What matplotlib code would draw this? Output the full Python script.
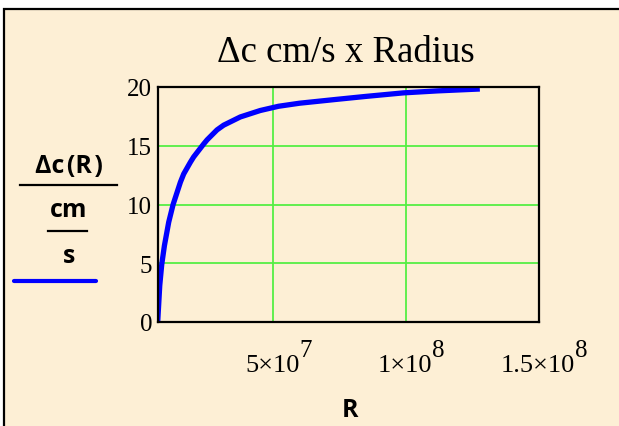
import matplotlib
matplotlib.use('Agg')
import matplotlib.pyplot as plt
from matplotlib.patches import Rectangle
from matplotlib.lines import Line2D

# values (R in 1e6 units, delta c in cm/s)
radius_e6 = [6.6, 7.37, 8.12, 9.13, 10.75, 12.4, 15.15, 16.39, 18.91, 20.15, 23.91, 25.19,
             28.94, 31.43, 37.7, 45.22, 52.1, 60, 74.05, 85, 99.09, 112, 127.9]
delta_c = [0, 3.1, 4.9, 6.5, 8.5, 10.0, 11.9, 12.6, 13.6, 14.05, 15.15, 15.5,
           16.35, 16.75, 17.45, 18.0, 18.36, 18.62, 18.95, 19.2, 19.5, 19.67, 19.83]
x_ticks = [5e7, 1e8, 1.5e8]
x_tick_mant = ['5×10', '1×10', '1.5×10']
x_tick_exp = ['7', '8', '8']
y_ticks = [0, 5, 10, 15, 20]

cream = '#fdefd5'
serif = 'Liberation Serif'
W, H = 619, 427
fig = plt.figure(figsize=(W / 100, H / 100), dpi=100, facecolor='white')

# mathcad region frame
frame = Rectangle((3.5 / W, -0.1), 1.2, 1 - 9.5 / H + 0.1, transform=fig.transFigure,
                  facecolor=cream, edgecolor='black', linewidth=1.6, zorder=-5)
fig.patches.append(frame)

ax = fig.add_axes([157.7 / W, 1 - 323 / H, (538.5 - 157.7) / W, (323 - 88) / H])
ax.set_zorder(5)
ax.set_facecolor(cream)
R = [r * 1e6 for r in radius_e6]
ax.plot(R, delta_c, color='#0000ff', lw=3.8, solid_capstyle='butt',
        solid_joinstyle='round', zorder=3)
ax.set_xlim(R[0], 1.5e8)
ax.set_ylim(0, 20)
ax.set_xticks(x_ticks)
ax.set_xticklabels([])
ax.set_yticks(y_ticks)
ax.grid(True, color='#55ee44', lw=1.3)
ax.set_axisbelow(True)
for s in ax.spines.values():
    s.set_linewidth(1.6)
    s.set_color('black')
    s.set_zorder(4)
ax.tick_params(length=0)
ax.tick_params(axis='y', pad=4, labelsize=18)
for lab in ax.get_yticklabels():
    lab.set_family(serif)

# x tick labels in mathcad style: mantissa with a full size raised exponent
for t, m, e in zip(x_ticks, x_tick_mant, x_tick_exp):
    main = ax.annotate(m, xy=(t, 0), xycoords=('data', 'axes fraction'),
                       xytext=(-0.5, -35.5), textcoords='offset points',
                       ha='center', va='baseline', family=serif, fontsize=19,
                       annotation_clip=False)
    ax.annotate(e, xy=(1, 0), xycoords=main, xytext=(0, 14.6),
                textcoords='offset points', ha='left', va='baseline',
                family=serif, fontsize=18, annotation_clip=False)

fig.text(346 / W, 1 - 62.3 / H, 'Δc cm/s x Radius', family=serif, fontsize=26.5,
         ha='center', va='baseline')

# y-axis label drawn as a stacked fraction with a legend line
sans = dict(family=['Open Sans', 'DejaVu Sans'], weight='bold', fontsize=18,
            ha='center', va='baseline', zorder=6)
fig.text(69 / W, 1 - 173.3 / H, 'Δc\u200a(R\u200a)', **sans)
fig.text(69 / W, 1 - 216.7 / H, 'cm', **sans)
fig.text(69 / W, 1 - 262.7 / H, 's', **sans)
fig.lines.append(Line2D([20 / W, 117 / W], [1 - 185.7 / H] * 2, transform=fig.transFigure,
                        color='black', lw=1.6, zorder=6))
fig.lines.append(Line2D([48 / W, 87 / W], [1 - 231.7 / H] * 2, transform=fig.transFigure,
                        color='black', lw=1.6, zorder=6))
fig.lines.append(Line2D([14 / W, 96 / W], [1 - 281.7 / H] * 2, transform=fig.transFigure,
                        color='#0000ff', lw=3.0, solid_capstyle='round', zorder=6))
fig.text(350 / W, 1 - 417 / H, 'R', **sans)

fig.savefig('out.png', dpi=100, facecolor='white')
